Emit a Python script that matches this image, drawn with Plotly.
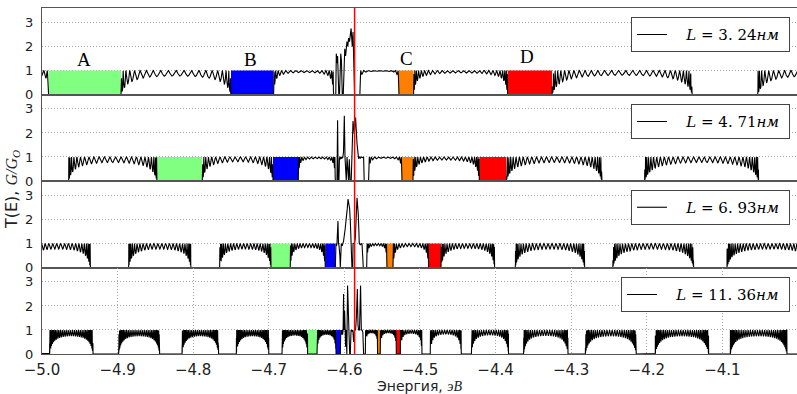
import numpy as np
import plotly.graph_objects as go
from plotly.subplots import make_subplots

# ---------------- data ----------------
x_tick_vals = [-5.0, -4.9, -4.8, -4.7, -4.6, -4.5, -4.4, -4.3, -4.2, -4.1]
x_tick_text = ["\u22125.0", "\u22124.9", "\u22124.8", "\u22124.7", "\u22124.6",
               "\u22124.5", "\u22124.4", "\u22124.3", "\u22124.2", "\u22124.1"]
y_tick_vals = [0, 1, 2, 3]
marker_energy = -4.5865          # red vertical line, eV

lengths = ["3. 24", "4. 71", "6. 93", "11. 36"]   # L, nm

gap_colors = ["#80ff80", "#0000ff", "#ff8000", "#ff0000"]
label_text = ["A", "B", "C", "D"]
label_x = [-4.944, -4.7245, -4.518, -4.3585]
label_y = [1.47, 1.47, 1.50, 1.58]

# --- L = 3.24 nm ---
p1_band_start = [-5.010, -4.8955, -4.6936, -4.5795, -4.5085, -4.3254, -4.0534]
p1_band_end   = [-4.9913, -4.7500, -4.6142, -4.5278, -4.3841, -4.1400, -3.9000]
p1_band_peaks = [4, 21, 16, 9, 26, 30, 24]
p1_band_depth = [0.30, 0.30, 0.10, 0.04, 0.12, 0.25, 0.30]
p1_spike_x = [-4.6124, -4.6114, -4.6107, -4.6098, -4.6090, -4.6081, -4.6074, -4.6064,
              -4.6057, -4.6048, -4.6039, -4.6028, -4.6015, -4.6004, -4.5995, -4.5984,
              -4.5975, -4.5966, -4.5955, -4.5944, -4.5932, -4.5922, -4.5911, -4.5902,
              -4.5896, -4.5886, -4.5878, -4.5872, -4.5865]
p1_spike_y = [0, 0, 1.7, 1.3, 1.6, 0.9, 0, 0.05,
              0.8, 1.7, 1.4, 0, 0, 1.2, 1.9, 1.6,
              1.9, 2.2, 2.0, 2.35, 2.2, 2.65, 2.75, 2.3,
              2.0, 2.6, 1.5, 0.6, 0]
p1_gap_start = [-4.9913, -4.7500, -4.5278, -4.3841]
p1_gap_end   = [-4.8955, -4.6937, -4.5085, -4.3254]

# --- L = 4.71 nm ---
p2_band_start = [-4.9650, -4.7880, -4.6610, -4.5680, -4.5093, -4.3858, -4.2030]
p2_band_end   = [-4.8480, -4.6944, -4.6120, -4.5238, -4.4215, -4.2593, -4.0520]
p2_band_peaks = [24, 20, 14, 10, 22, 28, 32]
p2_band_depth = [0.30, 0.25, 0.08, 0.06, 0.15, 0.30, 0.30]
p2_spike_x = [-4.6118, -4.6098, -4.6090, -4.6082, -4.6072, -4.6066, -4.6060, -4.6054,
              -4.6048, -4.6042, -4.6036, -4.6028, -4.6020, -4.6012, -4.6001, -4.5992,
              -4.5985, -4.5975, -4.5965, -4.5955, -4.5945, -4.5935, -4.5925, -4.5910,
              -4.5899, -4.5886, -4.5869, -4.5852, -4.5833, -4.5812, -4.5800, -4.5790,
              -4.5775, -4.5760, -4.5746, -4.5738]
p2_spike_y = [0, 0, 2.53, 0, 0, 0.9, 1.0, 0.9,
              1.0, 0.92, 1.0, 0.95, 1.0, 1.2, 2.71, 1.0,
              0, 0, 1.0, 0, 0, 0.9, 0, 0,
              1.0, 2.5, 1.96, 2.64, 1.55, 0.93, 1.0, 0.95,
              1.0, 0.97, 1.0, 0]
p2_gap_start = [-4.8480, -4.6944, -4.5238, -4.4215]
p2_gap_end   = [-4.7880, -4.6610, -4.5093, -4.3858]

# --- L = 6.93 nm ---
p3_band_start = [-5.020, -4.8855, -4.7650, -4.6716, -4.5705, -4.5357, -4.4722, -4.3740, -4.2450, -4.0940]
p3_band_end   = [-4.9360, -4.8030, -4.6971, -4.6253, -4.5437, -4.4886, -4.4013, -4.2822, -4.1380, -3.9800]
p3_band_peaks = [24, 24, 22, 16, 10, 14, 22, 26, 30, 34]
p3_band_depth = [0.30, 0.30, 0.30, 0.20, 0.10, 0.15, 0.25, 0.30, 0.30, 0.30]
p3_spike_x = [-4.6120, -4.6111, -4.6104, -4.6098, -4.6085, -4.6078, -4.6071, -4.6060,
              -4.6054, -4.6041, -4.6030, -4.6020, -4.6011, -4.5990, -4.5975, -4.5962,
              -4.5952, -4.5940, -4.5931, -4.5920, -4.5909, -4.5900, -4.5890, -4.5886,
              -4.5870, -4.5856, -4.5845, -4.5833, -4.5816, -4.5803, -4.5790, -4.5767,
              -4.5750]
p3_spike_y = [0, 1.0, 0.9, 1.0, 1.93, 1.0, 0.9, 0.5,
              0, 1.0, 0.9, 1.0, 1.1, 1.6, 2.3, 2.46,
              2.85, 2.7, 2.46, 1.8, 0.3, 0, 0, 1.0,
              1.0, 1.2, 2.0, 2.9, 2.2, 1.0, 0.95, 1.0,
              0]
p3_gap_start = [-4.6971, -4.6253, -4.5437, -4.4886]
p3_gap_end   = [-4.6716, -4.6120, -4.5357, -4.4722]

# --- L = 11.36 nm ---
p4_band_start = [-4.9900, -4.8987, -4.8148, -4.7430, -4.6825, -4.6362, -4.5723, -4.5526,
                 -4.5260, -4.4864, -4.4320, -4.3630, -4.2813, -4.1888, -4.0895]
p4_band_end   = [-4.9325, -4.8444, -4.7664, -4.7000, -4.6487, -4.6110, -4.5561, -4.5313,
                 -4.4974, -4.4453, -4.3828, -4.3042, -4.2139, -4.1182, -4.0146]
p4_band_peaks = [32, 30, 28, 26, 22, 16, 10, 12, 14, 18, 22, 26, 30, 34, 36]
p4_band_depth = [0.35, 0.35, 0.35, 0.35, 0.30, 0.25, 0.15, 0.15, 0.18, 0.22, 0.28, 0.32, 0.35, 0.35, 0.35]
p4_spike_x = [-4.6054, -4.6048, -4.6040, -4.6032, -4.6024, -4.6017, -4.6011, -4.6004,
              -4.5997, -4.5990, -4.5984, -4.5977, -4.5968, -4.5958, -4.5948, -4.5939,
              -4.5930, -4.5922, -4.5912, -4.5899, -4.5888, -4.5878, -4.5866, -4.5852,
              -4.5840, -4.5829, -4.5820, -4.5812, -4.5800, -4.5786, -4.5776, -4.5767,
              -4.5756, -4.5746]
p4_spike_y = [0, 1.0, 0.8, 1.0, 0.8, 1.0, 2.5, 1.0,
              1.8, 1.0, 0.3, 1.0, 0, 2.85, 1.0, 0.9,
              0, 0, 1.0, 0.95, 1.0, 0.5, 1.0, 1.0,
              1.6, 2.7, 1.2, 1.0, 1.0, 2.85, 1.0, 1.0,
              0.9, 0]
p4_gap_start = [-4.6487, -4.6110, -4.5561, -4.5313]
p4_gap_end   = [-4.6362, -4.6054, -4.5526, -4.5260]

panels = [
    (p1_band_start, p1_band_end, p1_band_peaks, p1_band_depth, p1_spike_x, p1_spike_y, p1_gap_start, p1_gap_end),
    (p2_band_start, p2_band_end, p2_band_peaks, p2_band_depth, p2_spike_x, p2_spike_y, p2_gap_start, p2_gap_end),
    (p3_band_start, p3_band_end, p3_band_peaks, p3_band_depth, p3_spike_x, p3_spike_y, p3_gap_start, p3_gap_end),
    (p4_band_start, p4_band_end, p4_band_peaks, p4_band_depth, p4_spike_x, p4_spike_y, p4_gap_start, p4_gap_end),
]


def band_segment(a, b, n_peaks, depth):
    """Transmission of a finite superlattice band between energies a and b."""
    N = n_peaks + 1
    n = max(80, N * 30)
    u = np.linspace(0.0, 1.0, n)
    theta = np.arccos(np.clip(1 - 2 * u, -1, 1))
    s = np.sin(theta)
    safe = np.where(s > 1e-9, s, 1.0)
    ratio = np.where(s > 1e-9, np.sin(N * theta) / safe, N)
    T = 1.0 / (1.0 + depth * ratio ** 2)
    x = a + (b - a) * u
    return np.concatenate([[a], x, [b]]), np.concatenate([[0.0], T, [0.0]])


def build_curve(bs, be, bn, bd, sx, sy):
    segs = []
    for a, b, n, d in zip(bs, be, bn, bd):
        segs.append(band_segment(a, b, n, d))
    segs.append((np.array(sx, float), np.array(sy, float)))
    segs.sort(key=lambda s: s[0][0])
    xs = [np.array([-5.1])] + [s[0] for s in segs] + [np.array([-3.9])]
    ys = [np.array([0.0])] + [s[1] for s in segs] + [np.array([0.0])]
    return np.concatenate(xs), np.concatenate(ys)


fig = make_subplots(rows=4, cols=1, shared_xaxes=True, vertical_spacing=0)

legend_keys = ["legend", "legend2", "legend3", "legend4"]
for r, (bs, be, bn, bd, sx, sy, gs, ge) in enumerate(panels, start=1):
    for a, b, c in zip(gs, ge, gap_colors):
        fig.add_trace(go.Scatter(x=[a, a, b, b, a], y=[0, 1, 1, 0, 0], mode="lines",
                                 fill="toself", fillcolor=c, line=dict(width=0, color=c),
                                 showlegend=False, hoverinfo="skip"), row=r, col=1)
    cx, cy = build_curve(bs, be, bn, bd, sx, sy)
    fig.add_trace(go.Scatter(x=cx, y=cy, mode="lines", line=dict(color="black", width=1.1),
                             name="\u00a0\u00a0\u00a0<i>L</i> = " + lengths[r - 1] + "<i>нм</i>\u00a0",
                             legend=legend_keys[r - 1], showlegend=True), row=r, col=1)

# legends (one per panel)
legend_y = [0.9731, 0.7217, 0.474, 0.2217]
for key, ly in zip(legend_keys, legend_y):
    fig.update_layout({key: dict(x=0.9907, xanchor="right", y=ly, yanchor="top",
                                 bgcolor="white", bordercolor="#444444", borderwidth=1,
                                 font=dict(family="DejaVu Serif", size=15, color="black"))})

grid_dash = "1px,2px"
for r in range(1, 5):
    fig.update_yaxes(range=[0, 3.6], tickvals=y_tick_vals, showgrid=True, gridcolor="#a8a8a8",
                     griddash=grid_dash, gridwidth=1, zeroline=False, showline=True, mirror=True,
                     linecolor="#555555", linewidth=1, ticks="", ticklabelstandoff=5,
                     tickfont=dict(family="DejaVu Sans", size=13, color="#222222"), row=r, col=1)
    fig.update_xaxes(range=[-5.0, -4.0013], tickvals=x_tick_vals, ticktext=x_tick_text,
                     showgrid=(r == 4), gridcolor="#a8a8a8", griddash=grid_dash, gridwidth=1,
                     zeroline=False, showline=True, mirror=True, linecolor="#555555", linewidth=1,
                     ticks="", ticklabelstandoff=2,
                     tickfont=dict(family="DejaVu Sans", size=15, color="#222222"), row=r, col=1)

# red marker line across all panels
fig.add_shape(type="line", xref="x", yref="paper", x0=marker_energy, x1=marker_energy,
              y0=0, y1=1, line=dict(color="red", width=1.5), layer="above")

# band labels in top panel
for t, lx, ly in zip(label_text, label_x, label_y):
    fig.add_annotation(x=lx, y=ly, xref="x", yref="y", text=t, showarrow=False,
                       font=dict(family="Liberation Serif", size=19, color="black"),
                       yanchor="middle", xanchor="center")

# axis titles
fig.add_annotation(xref="paper", yref="paper", x=-0.0397, y=0.474, textangle=-90,
                   text='T(E), <span style="font-family:Liberation Serif"><i>G/G<sub>O</sub></i></span>',
                   showarrow=False, font=dict(family="DejaVu Sans", size=16, color="#222222"),
                   xanchor="center", yanchor="middle")
fig.add_annotation(xref="paper", yref="paper", x=0.5, y=-0.0935,
                   text='Энергия, <span style="font-family:Liberation Serif"><i>эВ</i></span>',
                   showarrow=False, font=dict(family="DejaVu Sans", size=14, color="#222222"),
                   xanchor="center", yanchor="middle")

fig.update_layout(width=797, height=394, margin=dict(l=42, r=0, t=8, b=40),
                  plot_bgcolor="white", paper_bgcolor="white", showlegend=True)

fig.write_html("out.html")
